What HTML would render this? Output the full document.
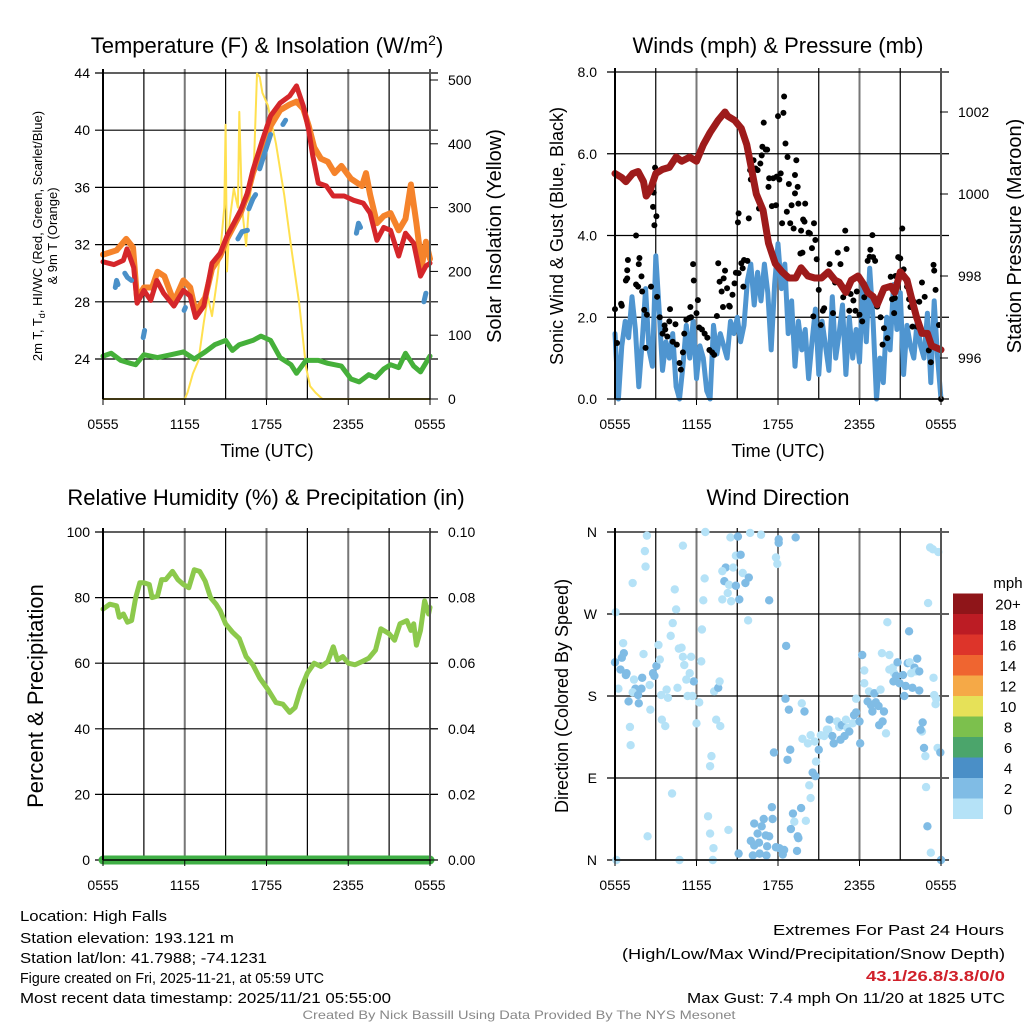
<!DOCTYPE html>
<html><head><meta charset="utf-8"><style>
html,body{margin:0;padding:0;background:#fff;}
svg{display:block;font-family:"Liberation Sans",sans-serif;}
</style></head><body>
<svg id="chart" width="1024" height="1024" viewBox="0 0 1024 1024" xmlns="http://www.w3.org/2000/svg">
<g id="grids"></g>
<g id="series"></g>
<g id="frames"></g>
<g id="labels"></g>
</svg>
<script>
// ---- Panel 1: temperature & insolation ----
const redTempH=[0,0.8,1.5,1.76,2.25,2.5,3.0,3.5,3.95,4.45,5.2,5.9,6.4,6.8,7.4,8.0,8.6,9.1,9.6,10.1,10.6,11.0,11.7,12.3,13.0,13.7,14.2,14.7,15.1,15.4,15.8,16.4,16.9,17.7,18.4,19.1,19.6,20.1,20.6,21.1,21.7,22.2,22.8,23.3,23.7,24];
const redTempV=[30.8,30.6,30.9,31.7,30.4,27.9,28.8,28.1,29.5,28.6,27.7,28.8,28.4,26.9,27.7,30.7,31.4,32.6,33.5,34.4,35.6,37.2,39.3,41.0,41.9,42.4,43.1,41.7,40.0,38.2,36.3,36.1,35.4,35.4,35.1,34.9,34.2,32.3,33.2,33.0,31.2,32.8,32.1,29.8,30.5,30.7];
const orangeH=[0,1.0,1.7,2.2,2.5,3.0,3.6,4.0,4.5,5.2,5.9,6.4,6.8,7.5,8.0,8.6,9.1,9.6,10.1,10.6,11.0,11.7,12.3,13.0,13.7,14.2,14.7,15.1,15.5,16.0,16.5,17.0,17.5,18.2,19.0,19.3,19.6,20.1,20.6,21.1,21.7,22.2,22.6,23.0,23.4,23.7,24];
const orangeV=[31.3,31.6,32.4,31.8,28.2,29.0,29.0,30.1,29.8,28.0,29.5,29.0,27.3,28.3,30.3,31.2,32.4,33.3,34.2,35.5,37.0,38.8,40.3,41.4,41.8,42.0,41.5,40.3,38.8,38.0,37.8,37.0,37.5,36.6,36.1,37.0,35.5,33.5,34.0,34.2,33.0,33.8,36.2,33.5,30.5,32.2,31.0];
const dewH=[0,0.6,1.3,2.0,2.4,3.0,4,5,5.9,6.7,7.5,8.2,9.0,9.5,10,11,11.6,12.3,13,13.8,14.2,14.9,15.8,16.5,17.5,18.2,18.8,19.5,20.0,20.6,21.1,21.7,22.2,22.8,23.3,24];
const dewV=[24.2,24.4,23.9,23.7,23.6,24.3,24.1,24.3,24.5,24.0,24.5,25.0,25.3,24.6,25.0,25.3,25.6,25.3,24.1,23.6,23.0,23.9,23.9,23.7,23.5,22.6,22.4,22.9,22.7,23.3,23.6,23.4,24.4,23.5,23.1,24.2];
const hiwcH=[0.9,1.0,1.1,null,1.6,1.8,2.1,null,2.95,3.05,null,5.95,6.05,null,9.9,10.2,10.6,null,10.7,11.0,11.2,null,11.5,11.9,12.3,null,13.2,13.4,null,18.6,18.75,18.9,null,23.55,23.7];
const hiwcV=[29.0,29.5,29.2,null,30.0,29.7,29.5,null,25.5,26.0,null,27.4,27.6,null,32.4,32.9,33.0,null,34.5,35.2,35.5,null,37.3,38.5,39.7,null,40.4,40.7,null,32.8,33.5,33.2,null,28.0,28.6];
const solarH=[0,6.0,6.2,6.6,7.0,7.4,7.7,8.0,8.4,8.6,8.9,9.0,9.1,9.3,9.6,9.9,10.0,10.2,10.5,10.7,11.1,11.3,11.5,11.7,12.1,12.7,13.3,13.8,14.4,14.9,15.2,15.6,16.1,24];
const solarV=[0,0,10,40,60,120,160,130,190,230,300,430,200,280,330,300,450,300,240,300,380,510,505,480,460,400,320,240,150,50,20,10,0,0];
const tempTicks=[24,28,32,36,40,44];
const solarTicks=[0,100,200,300,400,500];
const timeTickLabels=["0555","1155","1755","2355","0555"];
// ---- Panel 2: winds & pressure ----
const presH=[0,0.5,0.8,1.3,1.7,2.1,2.3,2.6,3.0,3.5,4.0,4.5,4.9,5.5,6.0,6.5,7.0,7.6,8.1,8.3,8.8,9.3,9.7,10.0,10.4,10.9,11.3,11.8,12.3,12.8,13.3,13.7,14.2,14.7,15.2,15.7,16.2,16.5,17.0,17.4,17.9,18.3,18.6,19.0,19.3,19.8,20.3,20.6,21.0,21.5,21.8,22.2,22.6,23.0,23.3,24];
const presV=[1000.5,1000.4,1000.3,1000.5,1000.55,1000.3,999.95,1000.1,1000.5,1000.6,1000.65,1000.9,1000.8,1000.9,1000.8,1001.2,1001.5,1001.8,1002.0,1001.9,1001.8,1001.6,1001.2,1000.7,1000.0,999.6,998.8,998.3,998.1,997.95,997.95,998.2,998.0,997.95,997.95,998.1,997.9,997.85,997.6,997.9,998.0,997.8,997.6,997.5,997.3,997.7,997.75,997.6,998.1,997.9,997.5,997.0,996.6,996.6,996.3,996.2];
const windV=[1.6,0.0,1.3,1.9,1.5,2.5,1.7,0.3,1.4,2.7,1.2,0.8,3.5,2.2,0.7,1.4,1.0,1.6,0.3,0.0,0.8,1.8,1.0,1.9,0.5,1.3,1.0,0.2,0.0,1.8,1.1,1.6,1.3,1.0,1.9,1.6,2.0,1.4,1.8,2.9,3.3,2.3,3.1,2.4,3.3,2.6,1.2,2.8,3.8,2.7,3.3,1.6,2.4,0.8,1.9,1.2,1.7,0.5,1.4,2.2,0.6,1.9,1.3,0.7,2.5,1.0,1.6,2.3,0.6,2.0,1.0,1.7,0.9,2.8,1.4,3.2,1.9,0.0,1.0,0.4,2.0,1.2,2.8,1.7,2.6,0.6,1.8,1.3,1.0,1.9,1.3,1.0,2.1,0.4,2.4,1.0,0.0];
const windStepH=0.25;
const gustH=[0,0.15,0.45,0.5,0.8,0.9,0.95,0.9,1.55,1.55,1.7,1.8,1.75,1.95,2.0,2.15,2.25,2.35,2.65,2.8,2.85,2.9,3.05,2.95,3.1,3.3,3.5,3.65,3.7,3.85,4.0,4.05,4.25,4.45,4.55,4.75,4.85,5.0,5.1,5.25,5.45,5.55,5.6,5.75,5.8,6.0,6.1,6.2,6.4,6.6,6.8,6.95,7.15,7.3,7.5,7.6,7.7,7.85,7.95,8.0,8.1,8.25,8.4,8.45,8.65,8.8,8.9,9.05,9.1,9.1,9.3,9.4,9.5,9.75,9.45,9.85,9.95,10.0,10.2,10.35,10.5,10.6,10.7,10.8,10.85,10.95,11.1,11.2,11.3,11.35,11.55,11.65,11.85,11.9,12.0,12.1,12.2,12.3,12.4,12.45,12.55,12.65,12.7,12.8,12.9,13.0,13.15,13.25,13.25,13.35,13.45,13.5,13.65,13.7,13.8,13.85,13.95,14.0,14.25,14.35,14.5,14.6,14.65,14.75,14.85,15.0,15.15,15.3,15.4,15.8,16.05,16.2,16.4,16.6,16.8,16.95,17.05,17.25,17.35,17.55,17.7,17.8,18.0,18.2,18.35,18.6,18.75,18.8,18.95,19.0,19.15,19.3,19.55,19.7,19.8,20.05,20.3,20.4,20.55,20.6,20.65,20.85,21.0,21.15,21.25,21.5,21.65,21.75,21.9,22.0,22.15,22.25,22.4,22.6,22.8,23.1,23.25,23.45,23.5,23.6,23.85,24];
const gustV=[2.2,1.37,2.33,2.28,2.9,3.15,3.4,2.95,4.0,2.8,2.75,3.45,3.3,3.0,2.63,2.18,1.25,2.06,2.75,4.7,5.05,4.25,4.47,5.66,2.5,2.0,1.6,1.8,1.7,1.53,1.9,2.2,1.4,1.83,1.33,0.88,0.72,1.14,1.6,1.94,1.98,2.25,2.0,3.3,2.9,2.1,2.42,1.75,1.7,1.6,1.5,1.2,1.14,1.08,2.03,3.32,2.87,2.63,2.25,2.95,3.14,2.71,2.28,2.26,2.55,2.83,3.09,4.32,4.54,3.08,3.32,3.2,3.4,3.38,2.75,4.42,5.6,5.37,5.84,5.64,5.6,4.66,5.76,5.96,6.17,6.76,6.1,6.1,5.19,5.4,4.72,5.4,4.74,5.44,6.92,5.37,5.52,4.3,7.0,7.4,6.25,4.58,5.92,5.26,4.3,4.74,4.17,5.03,5.48,5.84,5.19,4.78,3.56,4.12,3.58,4.39,4.34,4.78,4.07,4.05,3.69,2.02,4.3,3.89,3.42,2.67,1.81,2.16,2.22,3.3,2.1,2.85,3.58,3.3,2.49,4.12,3.67,2.16,2.57,2.41,2.16,2.63,2.06,1.9,2.49,3.38,3.48,3.65,4.01,3.47,3.38,2.26,2.0,1.33,1.73,1.49,2.99,2.44,2.1,2.47,3.01,3.47,3.44,4.17,3.17,2.75,2.44,2.25,1.77,2.38,2.02,1.77,2.38,2.85,2.5,1.19,0.9,3.28,3.14,2.67,1.81,0];
const windTicks=[0,2,4,6,8];
const windTickLabels=["0.0","2.0","4.0","6.0","8.0"];
const presTicks=[996,998,1000,1002];
// ---- Panel 3: RH & precip ----
const rhH=[0,0.5,1.0,1.2,1.5,1.8,2.1,2.4,2.7,3.0,3.4,3.6,4.0,4.3,4.6,5.1,5.5,5.9,6.3,6.7,7.1,7.5,7.9,8.3,8.6,9.0,9.5,10.0,10.5,11.0,11.5,12.1,12.7,13.2,13.7,14.1,14.5,15.0,15.5,16.0,16.5,16.9,17.2,17.6,18.0,18.5,19.0,19.5,20.0,20.4,21.0,21.4,21.8,22.3,22.6,22.8,23.0,23.3,23.6,23.9,24];
const rhV=[76.5,78,77.5,74,75,72.5,73,80,84.5,84.5,84,80,80.5,85.5,85.5,88,85.5,84,83,88.5,88,85,80,78,76,72,69.5,67.5,62,59.5,55.5,52,48,47.5,45,46.5,52,57,60,59,60.5,65,61,62,60,59.5,60.5,61.5,64,70.5,69,67,72,73,70,72,65.5,70,79,75,77];
const precipH=[0,3,6,9,12,15,18,21,24];
const precipV=[0,0,0,0,0,0,0,0,0];
const rhTicks=[0,20,40,60,80,100];
const precipTickLabels=["0.00","0.02","0.04","0.06","0.08","0.10"];
// ---- Panel 4: wind direction ----
const dirH=[0.05,2.35,2.2,2.25,1.3,0.6,0.65,0,0.5,0.4,0.85,0.8,0.25,1.4,1.5,1.95,1.3,1.7,1.75,1.0,2.0,2.1,2.55,2.6,1.1,1.15,0.1,2.4,2.8,3.05,2.9,3.2,3.3,3.4,3.8,3.9,3.45,3.7,4.1,4.25,4.4,4.5,5.0,4.7,4.9,5.0,5.6,5.1,5.5,5.8,5.25,4.6,5.35,5.7,6.2,6.0,6.35,6.4,6.5,6.6,6.65,4.2,7.1,7.0,6.85,7.0,7.25,7.2,4.75,7.3,7.6,7.7,7.45,7.75,7.9,8.05,8.3,8.15,7.9,8.55,8.4,8.7,8.5,8.9,9.05,8.9,9.15,9.25,9.4,9.6,9.85,9.8,8.35,9.1,9.95,10.75,11.35,11.85,11.95,12.05,12.05,13.3,12.6,12.55,12.8,13.75,13.95,12.9,12.7,11.7,10.25,10.8,10.5,10.95,11.55,11.6,11.1,11.35,10.0,10.25,10.6,11.2,11.85,12.1,12.45,12.35,10.15,10.65,11.15,13.1,13.2,12.95,13.45,13.5,13.4,13.7,14.05,14.4,14.3,14.55,14.75,14.8,15.0,14.2,13.8,14.4,14.7,15.15,15.4,15.6,15.8,15.7,16.0,16.1,16.35,16.5,16.7,16.6,16.9,17.0,17.1,17.25,17.5,17.6,17.75,18.0,18.05,17.75,18.35,18.2,18.35,18.7,19.05,18.6,18.85,18.95,19.2,19.4,19.1,19.45,19.7,19.8,19.95,19.55,20.05,20.2,19.65,20.2,20.45,20.55,20.8,20.7,20.5,20.95,21.2,21.3,21.4,21.65,21.55,21.7,21.9,22.05,22.15,22.4,22.25,22.4,21.8,22.65,22.6,22.5,22.75,22.85,22.9,23.0,23.25,23.05,23.2,23.4,23.8,23.45,23.5,23.65,23.6,23.75,23.95,24];
const dirDeg=[272,356,339,322,304,238,227,217,222,209,205,203,188,198,188,188,184,181,172,174,200,226,192,165,146,126,0,26,205,213,202,236,220,181,187,178,154,147,246,260,297,275,345,232,233,223,223,214,205,196,198,189,180,180,173,150,218,253,285,309,360,73,114,103,48,29,13,0,0,185,189,196,154,147,286,306,293,321,317,284,302,321,354,334,355,301,286,335,315,304,310,263,33,7,359,357,285,332,325,348,352,354,235,177,165,172,163,121,110,118,40,37,29,45,58,45,27,26,21,16,19,15,14,13,11,6,5,7,5,51,42,34,26,24,10,57,43,68,82,96,92,108,121,128,133,137,130,137,136,143,154,143,136,128,152,146,148,132,136,154,145,141,150,159,162,152,128,177,208,225,194,185,183,174,170,163,173,169,183,148,152,163,139,187,261,225,227,209,211,205,217,202,196,194,203,180,191,251,216,217,189,211,207,207,221,186,205,151,141,143,123,114,80,37,8,282,343,341,338,200,181,177,171,123,118,0];
const dirSpd=[1,1,1,1,1,1,3,3,3,3,3,3,1,1,3,3,1,3,3,3,3,1,1,1,1,1,1,1,3,3,3,1,1,1,1,1,1,1,1,1,1,1,1,1,1,1,1,1,1,3,1,1,1,1,1,1,1,1,1,1,1,1,1,1,1,1,1,1,1,1,3,1,1,1,1,3,1,3,1,1,1,1,1,1,3,3,3,3,1,3,3,1,1,3,1,1,3,1,1,3,3,3,3,3,3,1,3,3,3,3,3,3,3,3,3,3,3,3,3,3,3,3,3,3,3,3,3,3,3,3,1,3,3,3,3,3,1,1,1,3,3,1,3,1,1,1,1,1,1,1,3,1,3,3,1,1,3,3,3,1,1,3,1,3,3,3,3,1,1,3,1,1,1,3,3,3,3,3,3,3,3,3,1,1,1,1,1,1,1,1,3,3,3,3,3,3,3,3,3,1,3,3,1,3,3,3,1,3,1,3,3,1,1,3,1,1,1,1,1,1,1,1,1,1,3,3,3,1,1,1];
const dirTicks=[0,90,180,270,360];
const dirTickLabels=["N","E","S","W","N"];
const speedBins=["0","2","4","6","8","10","12","14","16","18","20+"];
const speedColors=["#b5e2f7","#80bce5","#4a8fc7","#4ba56b","#7cc04d","#e6e158","#f5a947","#ef6530","#dd342a","#bc1c24","#8f1519"];

const NS="http://www.w3.org/2000/svg";
const G=document.getElementById('grids'),S=document.getElementById('series'),F=document.getElementById('frames'),L=document.getElementById('labels');
function mk(tag,attrs,parent){const e=document.createElementNS(NS,tag);for(const k in attrs)e.setAttribute(k,attrs[k]);parent.appendChild(e);return e;}
function txt(s,x,y,size,anchor,parent,extra){const e=mk('text',Object.assign({x:x,y:y,'font-size':size,'text-anchor':anchor||'start',fill:'#000'},extra||{}),parent);e.textContent=s;return e;}

// panel geometry
const P1={l:103,r:430,t:73,b:399}, P2={l:615,r:941,t:72,b:399}, P3={l:103,r:430,t:532,b:860}, P4={l:615,r:941,t:532,b:860};
function xs(P){return h=>P.l+h*(P.r-P.l)/24;}
const x1=xs(P1),x2=xs(P2),x3=xs(P3),x4=xs(P4);
const yT=v=>73+(44-v)*(359-73)/20;
const yS=v=>399-v*(399-80)/500;
const yW=v=>399-v*(399-72)/8;
const yP=v=>358-(v-996)*(358-112)/6;
const yRH=v=>860-v*(860-532)/100;
const yPr=v=>860-v*(860-532)/0.1;
const yDir=v=>860-v*(860-532)/360;

function gridPanel(P,name,hLines){
  const g=mk('g',{},G);
  
  
  for(let i=0;i<=8;i++){const x=P.l+i*(P.r-P.l)/8;const major=i%2===0;
    mk('line',{x1:x,x2:x,y1:P.t-4,y2:P.b+(major?0:0),stroke:major?'#777':'#000','stroke-width':major?2:1.2},g);}
  hLines.forEach(y=>mk('line',{x1:P.l-8,x2:P.r+8,y1:y,y2:y,stroke:'#000','stroke-width':1.2},g));
}
gridPanel(P1,'temperature',tempTicks.map(yT));
gridPanel(P2,'wind',windTicks.map(yW));
gridPanel(P3,'humidity',rhTicks.map(yRH));
gridPanel(P4,'direction',dirTicks.map(yDir));

function frame(P,name){
  const g=mk('g',{},F);
  
  
  mk('line',{x1:P.l,x2:P.l,y1:P.t-4,y2:P.b,stroke:'#000','stroke-width':2},g);
  mk('line',{x1:P.r,x2:P.r,y1:P.t-4,y2:P.b,stroke:'#555','stroke-width':2},g);
  mk('line',{x1:P.l,x2:P.r,y1:P.b,y2:P.b,stroke:'#000','stroke-width':1.5},g);
  for(let i=0;i<=8;i+=2){const x=P.l+i*(P.r-P.l)/8;mk('line',{x1:x,x2:x,y1:P.b,y2:P.b+6,stroke:'#000','stroke-width':1},g);}
}

function path(H,V,xf,yf,stroke,w,name,parent){
  let d='',pen=false;
  for(let i=0;i<H.length;i++){if(H[i]===null||V[i]===null){pen=false;continue;}
    d+=(pen?'L':'M')+xf(H[i]).toFixed(1)+' '+yf(V[i]).toFixed(1);pen=true;}
  const p=mk('path',{d:d,fill:'none',stroke:stroke,'stroke-width':w,'stroke-linejoin':'round','stroke-linecap':'round'},parent||S);
  
  
  return p;
}
// Panel 1 series
path(solarH,solarV,x1,yS,'#ffe04f',2,'solar-insolation-line');
path(dewH,dewV,x1,yT,'#45b03a',5,'dewpoint-line');
path(orangeH,orangeV,x1,yT,'#f5832b',6,'temp-9m-line');
path(redTempH,redTempV,x1,yT,'#d5262a',5,'temp-2m-line');
path(hiwcH,hiwcV,x1,yT,'#4a90c8',5,'heat-index-windchill-line');
// Panel 2 series
const windH=windV.map((v,i)=>i*windStepH);
path(windH,windV,x2,yW,'#4f95d0',5,'sonic-wind-line');
gustH.forEach((h,i)=>{const c=mk('circle',{cx:x2(h),cy:yW(gustV[i]),r:3,fill:'#000'},S);
  
  });
path(presH,presV,x2,yP,'#9e1b1b',7,'station-pressure-line');
// Panel 3 series
path(rhH,rhV,x3,yRH,'#8cc94c',5,'relative-humidity-line');
path(precipH,precipV,x3,yPr,'#3faf45',9,'precipitation-line');
// Panel 4 points
dirH.forEach((h,i)=>{const bin=Math.min(10,Math.floor(dirSpd[i]/2));
  const c=mk('circle',{cx:x4(h),cy:yDir(dirDeg[i]),r:4.2,fill:speedColors[bin]},S);
  
  });

frame(P1,'temperature');frame(P2,'wind');frame(P3,'humidity');frame(P4,'direction');

// tick labels
function leftTicks(vals,labels,yf,x,name,size){vals.forEach((v,i)=>{const t=txt(labels[i],x,yf(v)+5,size||14,'end',L);
  
  });}
function rightTicks(vals,labels,yf,x,name,size){vals.forEach((v,i)=>{const t=txt(labels[i],x,yf(v)+5,size||14,'start',L);
  
  
  mk('line',{x1:x-18,x2:x-10,y1:yf(v),y2:yf(v),stroke:'#000','stroke-width':1},L);});}
function timeTicks(xf,y,name){timeTickLabels.forEach((s,i)=>{const t=txt(s,xf(i*6),y,14,'middle',L);
  
  });}
leftTicks(tempTicks,tempTicks.map(String),yT,90,'temp-tick-label');
rightTicks(solarTicks,solarTicks.map(String),yS,448,'solar-tick-label');
leftTicks(windTicks,windTickLabels,yW,597,'wind-tick-label');
rightTicks(presTicks,presTicks.map(String),yP,958,'pressure-tick-label');
leftTicks(rhTicks,rhTicks.map(String),yRH,90,'rh-tick-label');
rightTicks(rhTicks,precipTickLabels,yRH,448,'precip-tick-label');
leftTicks(dirTicks,dirTickLabels,yDir,597,'direction-tick-label');
timeTicks(x1,429,'time-tick-label');timeTicks(x2,429,'time-tick-label');timeTicks(x3,890,'time-tick-label');timeTicks(x4,890,'time-tick-label');

// colorbar
speedBins.forEach((b,i)=>{const y=819-(i+1)*20.5;
  const r=mk('rect',{x:953,y:y,width:30,height:20.5,fill:speedColors[i]},L);
  
  
  const t=txt(b,1008,y+16,15,'middle',L);
  
  });
</script>
<svg width="0" height="0" style="position:absolute"></svg>
<script>
const Lb=document.getElementById('labels');
function T(s,x,y,size,anchor,name,extra){const e=document.createElementNS("http://www.w3.org/2000/svg",'text');
  e.setAttribute('x',x);e.setAttribute('y',y);e.setAttribute('font-size',size);e.setAttribute('text-anchor',anchor);e.setAttribute('fill','#000');
  if(extra)for(const k in extra)e.setAttribute(k,extra[k]);
  
  
  e.innerHTML=s;Lb.appendChild(e);return e;}
T('Temperature (F) &amp; Insolation (W/m<tspan dy="-8" font-size="14">2</tspan><tspan dy="8">)</tspan>',267,53,22,'middle','title-temperature');
T('Winds (mph) &amp; Pressure (mb)',778,53,22,'middle','title-winds');
T('Relative Humidity (%) &amp; Precipitation (in)',266,505,22,'middle','title-humidity');
T('Wind Direction',778,505,22,'middle','title-direction');
T('Time (UTC)',267,457,18,'middle','x-axis-title');
T('Time (UTC)',778,457,18,'middle','x-axis-title');
T('2m T, T<tspan dy="3" font-size="9">d</tspan><tspan dy="-3">, HI/WC (Red, Green, Scarlet/Blue)</tspan>',0,0,13,'middle','temp-y-axis-title',{transform:'translate(42,236) rotate(-90)'});
T('&amp; 9m T (Orange)',0,0,13,'middle','temp-y-axis-title',{transform:'translate(57,236) rotate(-90)'});
T('Solar Insolation (Yellow)',0,0,20,'middle','solar-y-axis-title',{transform:'translate(501,236) rotate(-90)'});
T('Sonic Wind &amp; Gust (Blue, Black)',0,0,18,'middle','wind-y-axis-title',{transform:'translate(563,236) rotate(-90)'});
T('Station Pressure (Maroon)',0,0,20,'middle','pressure-y-axis-title',{transform:'translate(1021,236) rotate(-90)'});
T('Percent &amp; Precipitation',0,0,22,'middle','rh-y-axis-title',{transform:'translate(43,696) rotate(-90)'});
T('Direction (Colored By Speed)',0,0,18,'middle','direction-y-axis-title',{transform:'translate(568,696) rotate(-90)'});
T('mph',1008,588,15,'middle','colorbar-title');
T('Location: High Falls',20,921,15,'start','info-location',{textLength:147,lengthAdjust:'spacingAndGlyphs'});
T('Station elevation: 193.121 m',20,943,15,'start','info-elevation',{textLength:214,lengthAdjust:'spacingAndGlyphs'});
T('Station lat/lon: 41.7988; -74.1231',20,963,15,'start','info-latlon',{textLength:247,lengthAdjust:'spacingAndGlyphs'});
T('Figure created on Fri, 2025-11-21, at 05:59 UTC',20,983,15,'start','info-created',{textLength:304,lengthAdjust:'spacingAndGlyphs'});
T('Most recent data timestamp: 2025/11/21 05:55:00',20,1003,15,'start','info-timestamp',{textLength:371,lengthAdjust:'spacingAndGlyphs'});
T('Extremes For Past 24 Hours',1004,935,15,'end','extremes-title',{textLength:231,lengthAdjust:'spacingAndGlyphs'});
T('(High/Low/Max Wind/Precipitation/Snow Depth)',1005,959,15,'end','extremes-subtitle',{textLength:383,lengthAdjust:'spacingAndGlyphs'});
T('43.1/26.8/3.8/0/0',1005,981,15,'end','extremes-values',{fill:'#d0202a','font-weight':'bold',textLength:139,lengthAdjust:'spacingAndGlyphs'});
T('Max Gust: 7.4 mph On 11/20 at 1825 UTC',1005,1003,15,'end','max-gust',{textLength:318,lengthAdjust:'spacingAndGlyphs'});
T('Created By Nick Bassill Using Data Provided By The NYS Mesonet',519,1019,12,'middle','credits',{fill:'#888',textLength:433,lengthAdjust:'spacingAndGlyphs'});
</script>
</body></html>
